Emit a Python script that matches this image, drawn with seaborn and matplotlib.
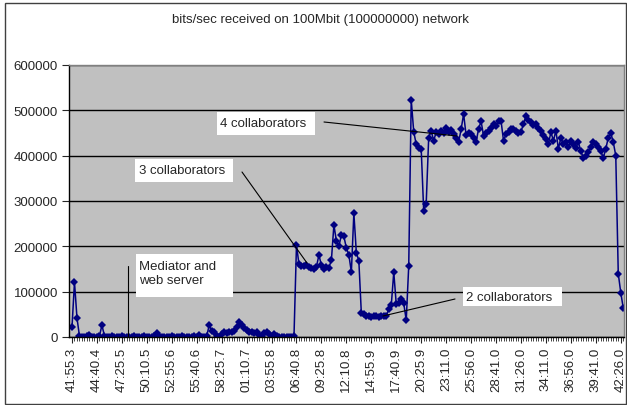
import numpy as np
import pandas as pd
import matplotlib
matplotlib.use('Agg')
import matplotlib.pyplot as plt
import seaborn as sns
from matplotlib.lines import Line2D
from matplotlib.patches import Rectangle
from matplotlib.ticker import FuncFormatter

# bits/sec samples, one per category
idle = [22000, 121000, 42000, 2000, 1000, 0, 2000, 4000, 1000, 0, 1000, 2000,
        26000, 3000, 1000, 0, 2000, 1000, 0, 1000, 2000, 0, 1000,
        0, 1000, 2000, 0, 1000, 0, 2000, 1000, 0, 1000, 3000, 8000,
        2000, 0, 1000, 0, 1000, 2000, 0, 1000, 0, 2000, 1000, 0, 1000, 0, 2000, 1000,
        5000, 1000, 0, 2000, 26000, 14000, 10000, 3000, 0,
        6000, 10000, 8000, 12000, 10000, 14000,
        22000, 33000, 27000, 20000, 15000, 12000, 10000, 8000,
        12000, 5000, 2000, 8000, 12000, 6000, 3000, 6000, 2000,
        1000, 0, 1000, 0, 1000, 0, 2000]
three_collab = [203000, 160000, 157000, 156000, 158000, 154000, 152000, 150000,
                155000, 181000, 158000, 151000, 155000, 153000, 170000,
                247000, 212000, 200000, 225000, 222000, 196000, 181000, 143000,
                273000, 186000, 168000]
two_collab = [52000, 50000, 47000, 46000, 45000, 47000, 46000, 45000, 46000, 47000, 46000,
              62000, 70000, 143000, 72000, 76000, 84000, 74000, 37000, 157000]
four_collab = [523000, 453000, 425000, 418000, 415000, 278000, 294000,
               440000, 455000, 433000, 452000, 448000, 455000, 450000, 460000, 452000, 456000,
               447000, 440000, 430000, 458000, 492000, 445000, 450000, 448000, 440000, 430000,
               459000, 476000, 444000, 450000, 455000, 462000, 470000, 465000, 477000, 477000,
               433000, 448000, 453000, 459000, 459000, 455000, 450000, 453000, 470000, 488000,
               478000, 474000, 468000, 470000, 460000, 455000, 445000, 437000, 426000, 452000,
               433000, 455000, 415000, 440000, 425000, 430000, 420000, 432000, 425000, 418000,
               430000, 410000, 395000, 400000, 408000, 420000, 430000, 425000, 420000, 410000,
               395000, 415000, 440000, 450000, 430000, 400000, 140000, 98000, 64000]

tick_labels = ['41:55.3', '44:40.4', '47:25.5', '50:10.5', '52:55.6', '55:40.6',
               '58:25.7', '01:10.7', '03:55.8', '06:40.8', '09:25.8', '12:10.8',
               '14:55.9', '17:40.9', '20:25.9', '23:11.0', '25:56.0', '28:41.0',
               '31:26.0', '34:11.0', '36:56.0', '39:41.0', '42:26.0']

bps = idle + three_collab + two_collab + four_collab
df = pd.DataFrame({'idx': np.arange(len(bps)), 'bps': bps})

sns.set_style('white')
plt.rcParams['font.family'] = ['Liberation Sans', 'DejaVu Sans']

W, H = 627, 406
fig = plt.figure(figsize=(W / 100, H / 100), dpi=100)
ax = fig.add_axes([69 / W, 1 - 338 / H, (624 - 69) / W, (338 - 66) / H])
ax.set_facecolor('#c0c0c0')

sns.lineplot(data=df, x='idx', y='bps', ax=ax, estimator=None, color='#000080',
             linewidth=1.1, marker='D', markersize=3.9, markeredgewidth=0)

ax.set_xlim(-1.2, len(bps) - 0.7)
ax.set_ylim(0, 600000)
ax.set_yticks(range(0, 600001, 100000))
ax.yaxis.set_major_formatter(FuncFormatter(lambda v, p: f'{int(v)}'))
ax.yaxis.grid(True, color='black', lw=1)
ax.set_axisbelow(True)

ax.set_xticks(range(0, len(bps), 10))
ax.set_xticklabels(tick_labels, rotation=90)
ax.set_xticks(range(len(bps)), minor=True)
ax.set_xlabel('')
ax.set_ylabel('')
ax.tick_params(axis='x', which='major', bottom=True, length=4, width=0.8, labelsize=9.5, pad=3)
ax.tick_params(axis='x', which='minor', bottom=True, length=3, width=0.6)
ax.tick_params(axis='y', which='major', left=True, length=5, width=0.8, labelsize=9.5, pad=3)

for s in ['left', 'bottom']:
    ax.spines[s].set_color('black')
    ax.spines[s].set_linewidth(1)
for s in ['top', 'right']:
    ax.spines[s].set_color('#808080')
    ax.spines[s].set_linewidth(1)

fig.text(320 / W, 1 - 20 / H, 'bits/sec received on 100Mbit (100000000) network',
         ha='center', va='center', fontsize=9.5)

# outer chart border
fig.add_artist(Rectangle((4.5 / W, 1.5 / H), 621 / W, 401 / H, fill=False,
                         edgecolor='#404040', lw=1, transform=fig.transFigure))


def px(x, y):
    return x / W, 1 - y / H


# annotation boxes: (left, top, right, bottom), text left, text lines
boxes = [((217, 113, 315, 136), 220, 124, '4 collaborators'),
         ((135, 160, 233, 183), 139, 171, '3 collaborators'),
         ((136, 255, 233, 298), 139, 274, 'Mediator and\nweb server'),
         ((463, 288, 562, 307), 466, 298, '2 collaborators')]
for (x0, y0, x1, y1), tx, ty, label in boxes:
    fig.add_artist(Rectangle(px(x0, y1), (x1 - x0) / W, (y1 - y0) / H, facecolor='white',
                             edgecolor='none', transform=fig.transFigure, zorder=3))
    fig.text(*px(tx, ty), label, ha='left', va='center', fontsize=9.5, zorder=4,
             linespacing=1.15)

pointers = [((324, 123), (457, 137)),
            ((242, 173), (307, 264)),
            ((383, 317), (455, 300)),
            ((128, 267), (128, 338))]
for a, b in pointers:
    (xa, ya), (xb, yb) = px(*a), px(*b)
    fig.add_artist(Line2D([xa, xb], [ya, yb], color='black', lw=0.8,
                          transform=fig.transFigure, zorder=3))

fig.savefig('out.png', dpi=100)
